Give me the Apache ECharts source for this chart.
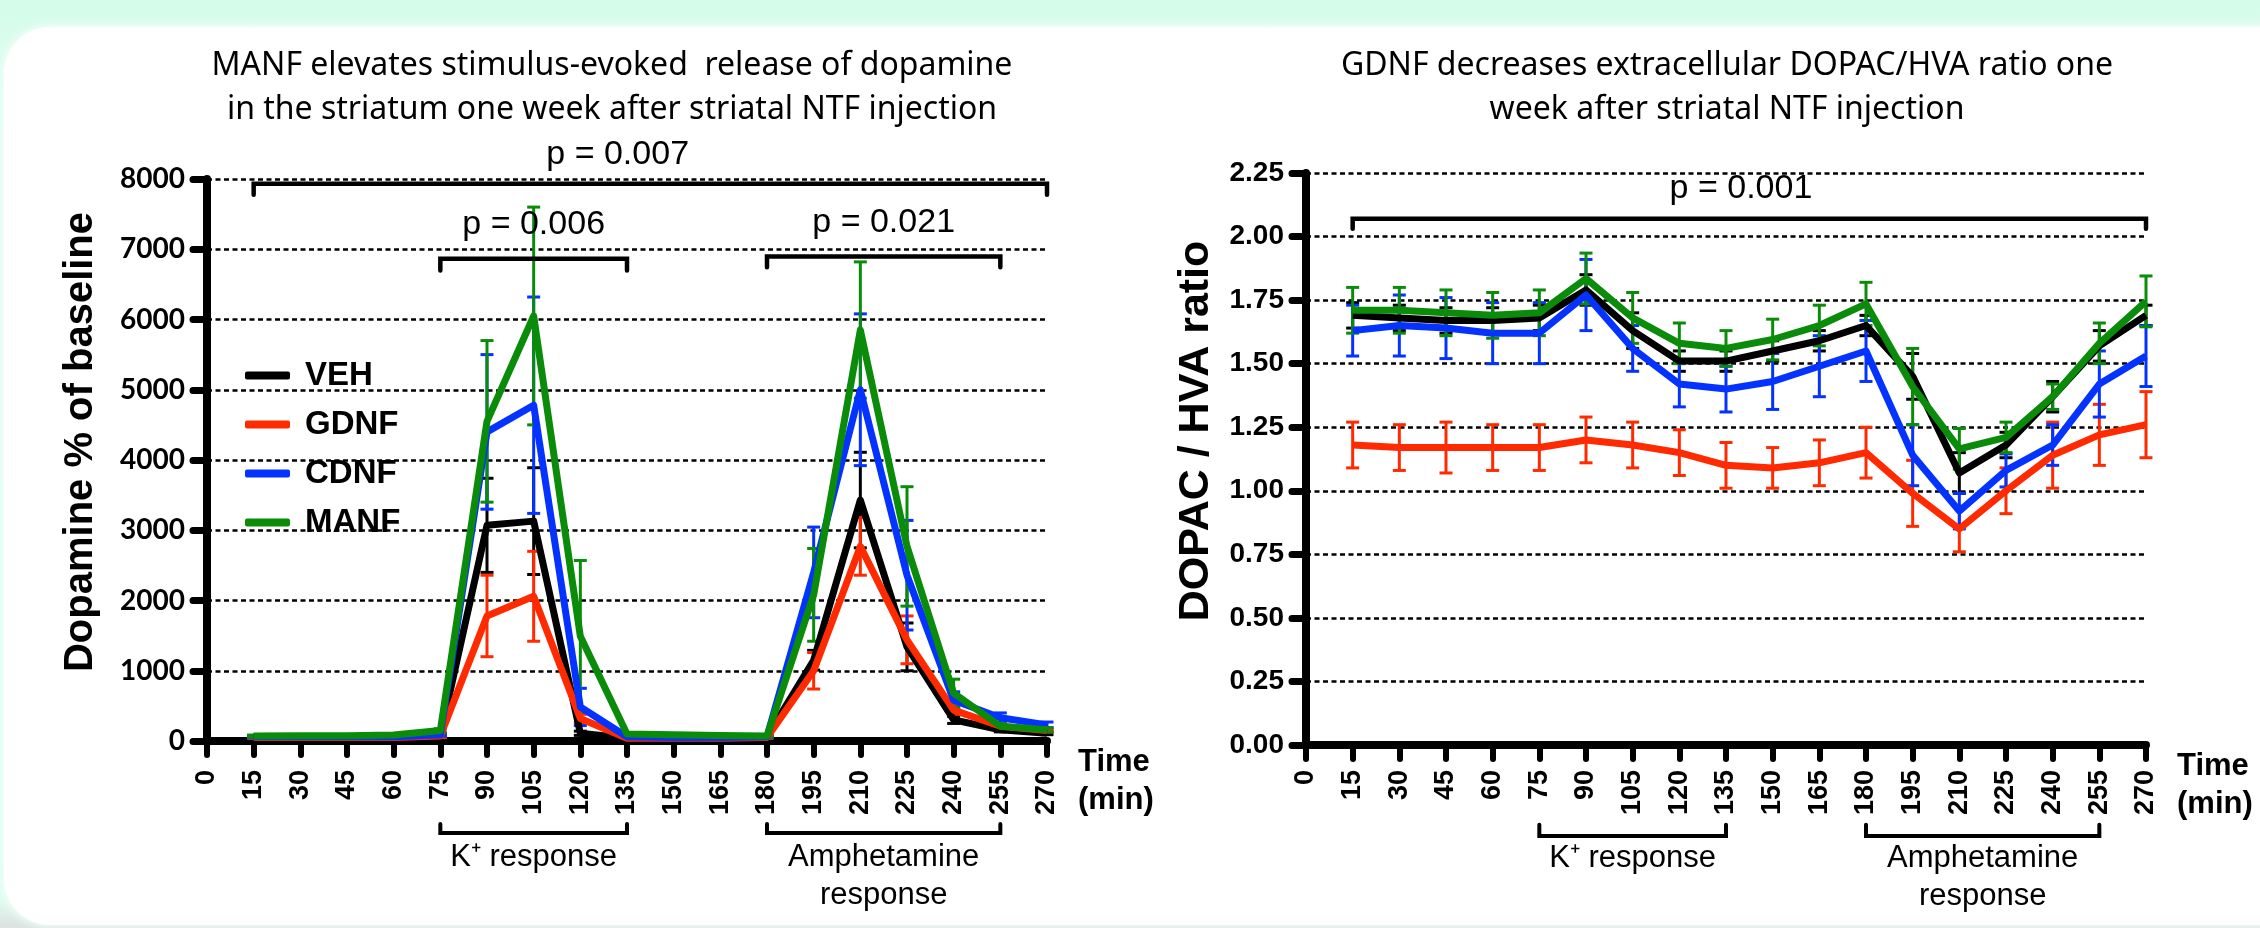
<!DOCTYPE html>
<html>
<head>
<meta charset="utf-8">
<script src="https://cdn.jsdelivr.net/npm/echarts@6/dist/echarts.min.js"></script>
<style>
    html, body {
        margin: 0;
        width: 2260px;
        height: 928px;
        overflow: hidden;
        background: linear-gradient(180deg, #d4fcea 0px, #e2fdf3 120px, #dffcf0 900px, #dde3e1 925px);
    }
    #panel {
        position: absolute;
        left: 4px;
        top: 27px;
        width: 2320px;
        height: 898px;
        background: #fff;
        border-radius: 46px;
        box-shadow: 0 0 8px 2px #f2fff9;
    }
    #chart {
        position: absolute;
        left: 0;
        top: 0;
        width: 2260px;
        height: 928px;
    }
</style>
</head>
<body>
<div id="panel"></div>
<div id="chart"></div>
<script>
// sampling times (min)
const times = [15, 30, 45, 60, 75, 90, 105, 120, 135, 150, 165, 180, 195, 210, 225, 240, 255, 270]
const groups = ["VEH", "GDNF", "CDNF", "MANF"]
const groupColors = ["#000000", "#ff2a00", "#0433ff", "#0a8c0a"]

// dopamine, % of baseline (mean and SEM)
const dopamineVEH = [60, 60, 60, 65, 80, 3070, 3130, 110, 40, 40, 40, 60, 1150, 3430, 1340, 300, 160, 110]
const dopamineVEHSem = [15, 15, 15, 15, 20, 670, 760, 30, 10, 10, 10, 15, 140, 680, 340, 50, 30, 20]
const dopamineGDNF = [50, 50, 50, 50, 70, 1780, 2060, 320, 40, 40, 40, 50, 1000, 2770, 1440, 440, 210, 150]
const dopamineGDNFSem = [15, 15, 15, 15, 20, 580, 640, 60, 10, 10, 10, 15, 260, 410, 340, 60, 30, 20]
const dopamineCDNF = [60, 60, 60, 60, 90, 4400, 4780, 485, 60, 50, 50, 60, 2400, 5000, 2360, 580, 330, 230]
const dopamineCDNFSem = [15, 15, 15, 15, 20, 1100, 1540, 265, 15, 10, 10, 15, 645, 1080, 780, 120, 70, 40]
const dopamineMANF = [70, 75, 75, 85, 150, 4550, 6050, 1490, 100, 90, 80, 70, 2080, 5850, 2770, 680, 210, 160]
const dopamineMANFSem = [15, 15, 15, 15, 25, 1150, 1550, 1080, 20, 15, 15, 15, 660, 970, 850, 200, 40, 30]

// DOPAC / HVA ratio (mean and SEM)
const ratioVEH = [1.69, 1.68, 1.67, 1.67, 1.68, 1.79, 1.63, 1.51, 1.51, 1.55, 1.59, 1.65, 1.45, 1.07, 1.18, 1.37, 1.57, 1.69]
const ratioVEHSem = [0.05, 0.05, 0.05, 0.05, 0.05, 0.06, 0.07, 0.04, 0.04, 0.04, 0.04, 0.04, 0.09, 0.08, 0.05, 0.06, 0.06, 0.04]
const ratioGDNF = [1.18, 1.17, 1.17, 1.17, 1.17, 1.20, 1.18, 1.15, 1.10, 1.09, 1.11, 1.15, 0.99, 0.85, 1.00, 1.14, 1.22, 1.26]
const ratioGDNFSem = [0.09, 0.09, 0.10, 0.09, 0.09, 0.09, 0.09, 0.09, 0.09, 0.08, 0.09, 0.10, 0.13, 0.09, 0.09, 0.13, 0.12, 0.13]
const ratioCDNF = [1.63, 1.65, 1.64, 1.62, 1.62, 1.77, 1.56, 1.42, 1.40, 1.43, 1.49, 1.55, 1.14, 0.92, 1.08, 1.18, 1.42, 1.53]
const ratioCDNFSem = [0.10, 0.12, 0.12, 0.12, 0.12, 0.14, 0.09, 0.09, 0.09, 0.11, 0.12, 0.12, 0.12, 0.07, 0.065, 0.08, 0.13, 0.12]
const ratioMANF = [1.71, 1.71, 1.70, 1.69, 1.70, 1.835, 1.68, 1.58, 1.56, 1.595, 1.65, 1.735, 1.41, 1.165, 1.21, 1.37, 1.58, 1.745]
const ratioMANFSem = [0.09, 0.09, 0.09, 0.09, 0.09, 0.10, 0.10, 0.08, 0.07, 0.08, 0.08, 0.085, 0.15, 0.08, 0.06, 0.05, 0.08, 0.10]

// significance brackets: [from, to, bar level, end level] and label [x, y, text]
const dopamineBrackets = [
    [15, 270, 7934, 7777],
    [75, 135, 6863, 6697],
    [180, 255, 6896, 6744],
]
const dopamineP = [
    [132, 8080, "p = 0.007"],
    [105, 7076, "p = 0.006"],
    [217.5, 7109, "p = 0.021"],
]
const ratioBrackets = [[15, 270, 2.07, 2.031]]
const ratioP = [[139.8, 2.112, "p = 0.001"]]

// stimulus periods below the time axis
const periodRanges = [[75, 135], [180, 255]]
const periodNames = ["K⁺ response", "Amphetamine\nresponse"]
const dopaminePeriodLevels = [-1308, -1180, -1385]
const ratioPeriodLevels = [-0.358, -0.314, -0.373]

const titles = [
    "MANF elevates stimulus-evoked  release of dopamine\nin the striatum one week after striatal NTF injection",
    "GDNF decreases extracellular DOPAC/HVA ratio one\nweek after striatal NTF injection",
]

const sansFont = "'Liberation Sans', Arial, sans-serif"
const titleFont = "'Noto Sans', 'Open Sans', sans-serif"

function pairs(values) {
    return times.map((t, i) => [t, values[i]])
}

function lineSeries(name, color, axisIndex, values) {
    return {
        name,
        type: "line",
        xAxisIndex: axisIndex,
        yAxisIndex: axisIndex,
        data: pairs(values),
        showSymbol: false,
        symbol: "none",
        silent: true,
        itemStyle: { color },
        lineStyle: { color, width: 7, join: "round" },
    }
}

function errorSeries(name, color, axisIndex, means, sems) {
    return {
        name,
        type: "custom",
        xAxisIndex: axisIndex,
        yAxisIndex: axisIndex,
        silent: true,
        itemStyle: { color },
        data: times.map((t, i) => [t, means[i] - sems[i], means[i] + sems[i]]),
        encode: { x: 0, y: [1, 2] },
        renderItem(params, api) {
            const low = api.coord([api.value(0), api.value(1)])
            const high = api.coord([api.value(0), api.value(2)])
            const half = 6.5
            const style = { stroke: color, lineWidth: 3 }
            return {
                type: "group",
                children: [
                    { type: "line", shape: { x1: low[0], y1: low[1], x2: high[0], y2: high[1] }, style },
                    { type: "line", shape: { x1: high[0] - half, y1: high[1], x2: high[0] + half, y2: high[1] }, style },
                    { type: "line", shape: { x1: low[0] - half, y1: low[1], x2: low[0] + half, y2: low[1] }, style },
                ],
            }
        },
    }
}

function bracketSeries(axisIndex, brackets, width) {
    return brackets.map(b => ({
        type: "line",
        xAxisIndex: axisIndex,
        yAxisIndex: axisIndex,
        data: [[b[0], b[3]], [b[0], b[2]], [b[1], b[2]], [b[1], b[3]]],
        showSymbol: false,
        symbol: "none",
        silent: true,
        clip: false,
        lineStyle: { color: "#000", width, cap: "round", join: "miter" },
    }))
}

function textSeries(axisIndex, items, position, fontSize, lineHeight) {
    return {
        type: "scatter",
        xAxisIndex: axisIndex,
        yAxisIndex: axisIndex,
        symbolSize: 0,
        silent: true,
        clip: false,
        itemStyle: { opacity: 1 },
        data: items.map(item => ({ value: [item[0], item[1]], name: item[2] })),
        label: {
            show: true,
            position,
            distance: 0,
            formatter: "{b}",
            color: "#000",
            fontFamily: sansFont,
            fontSize,
            lineHeight,
            align: "center",
        },
    }
}

function periodItems(levels) {
    return periodRanges.map((r, i) => [(r[0] + r[1]) / 2, levels[2], periodNames[i]])
}

function periodBrackets(levels) {
    return periodRanges.map(r => [r[0], r[1], levels[0], levels[1]])
}

const dopamineMeans = [dopamineVEH, dopamineGDNF, dopamineCDNF, dopamineMANF]
const dopamineSems = [dopamineVEHSem, dopamineGDNFSem, dopamineCDNFSem, dopamineMANFSem]
const ratioMeans = [ratioVEH, ratioGDNF, ratioCDNF, ratioMANF]
const ratioSems = [ratioVEHSem, ratioGDNFSem, ratioCDNFSem, ratioMANFSem]

const series = []
groups.forEach((name, i) => {
    series.push(lineSeries(name, groupColors[i], 0, dopamineMeans[i]))
    series.push(errorSeries(name, groupColors[i], 0, dopamineMeans[i], dopamineSems[i]))
})
groups.forEach((name, i) => {
    series.push(lineSeries(name, groupColors[i], 1, ratioMeans[i]))
    series.push(errorSeries(name, groupColors[i], 1, ratioMeans[i], ratioSems[i]))
})
series.push(...bracketSeries(0, dopamineBrackets, 4.5))
series.push(...bracketSeries(1, ratioBrackets, 4.5))
series.push(...bracketSeries(0, periodBrackets(dopaminePeriodLevels), 4))
series.push(...bracketSeries(1, periodBrackets(ratioPeriodLevels), 4))
series.push(textSeries(0, dopamineP, "top", 34, 38))
series.push(textSeries(1, ratioP, "top", 34, 38))
series.push(textSeries(0, periodItems(dopaminePeriodLevels), "bottom", 31, 38))
series.push(textSeries(1, periodItems(ratioPeriodLevels), "bottom", 31, 38))

function timeAxis(gridIndex, offset) {
    return {
        type: "value",
        gridIndex,
        min: 0,
        max: 270,
        interval: 15,
        offset,
        name: "Time\n(min)",
        nameLocation: "end",
        nameGap: 31,
        nameTextStyle: {
            fontFamily: sansFont,
            fontWeight: "bold",
            fontSize: 31,
            lineHeight: 38,
            color: "#000",
            align: "left",
            verticalAlign: "top",
            padding: [2, 0, 0, 0],
        },
        axisLine: { lineStyle: { color: "#000", width: 8, cap: "round" } },
        axisTick: { length: 14, lineStyle: { color: "#000", width: 6, cap: "round" } },
        axisLabel: {
            rotate: 90,
            interval: 0,
            margin: 25,
            showMinLabel: true,
            showMaxLabel: true,
            color: "#000",
            fontFamily: sansFont,
            fontWeight: "bold",
            fontSize: 27,
        },
        splitLine: { show: false },
    }
}

function valueAxis(gridIndex, max, interval, name, nameGap, nameSize, nameShift, labelFont, labelDigits) {
    return {
        type: "value",
        gridIndex,
        min: 0,
        max,
        interval,
        name,
        nameLocation: "middle",
        nameRotate: 90,
        nameGap,
        nameTextStyle: {
            fontFamily: sansFont,
            fontWeight: "bold",
            fontSize: nameSize,
            color: "#000",
            padding: [0, 0, 0, nameShift],
        },
        axisLine: { lineStyle: { color: "#000", width: 8, cap: "round" } },
        axisTick: { length: 14, lineStyle: { color: "#000", width: 7, cap: "round" } },
        axisLabel: {
            margin: 22,
            color: "#000",
            fontFamily: labelFont,
            fontWeight: "bold",
            fontSize: 28,
            formatter: value => Number(value).toFixed(labelDigits),
        },
        splitLine: {
            show: true,
            lineStyle: { color: "#000", width: 2.6, type: [5, 3.5] },
        },
    }
}

const titleStyle = { fontFamily: titleFont, fontWeight: "normal", fontSize: 32, lineHeight: 44, color: "#000" }

const option = {
    animation: false,
    backgroundColor: "transparent",
    title: [
        { text: titles[0], left: 607, top: 39, textAlign: "center", textStyle: titleStyle },
        { text: titles[1], left: 1722, top: 39, textAlign: "center", textStyle: titleStyle },
    ],
    legend: {
        data: groups,
        orient: "vertical",
        left: 240,
        top: 354,
        itemWidth: 45,
        itemHeight: 8,
        itemGap: 16,
        icon: "roundRect",
        selectedMode: false,
        textStyle: {
            fontFamily: sansFont,
            fontWeight: "bold",
            fontSize: 33,
            color: "#000",
            padding: [0, 0, 0, 10],
        },
    },
    grid: [
        { left: 207, top: 179, width: 840, height: 562 },
        { left: 1306, top: 173, width: 840, height: 572 },
    ],
    xAxis: [timeAxis(0, 4), timeAxis(1, 0)],
    yAxis: [
        valueAxis(0, 8000, 1000, "Dopamine % of baseline", 106, 40, 36, "Lato, sans-serif", 0),
        valueAxis(1, 2.25, 0.25, "DOPAC / HVA ratio", 88, 43, 56, sansFont, 2),
    ],
    series,
}

const chart = echarts.init(document.getElementById("chart"), null, { renderer: "canvas" })
chart.setOption(option)
</script>
</body>
</html>
